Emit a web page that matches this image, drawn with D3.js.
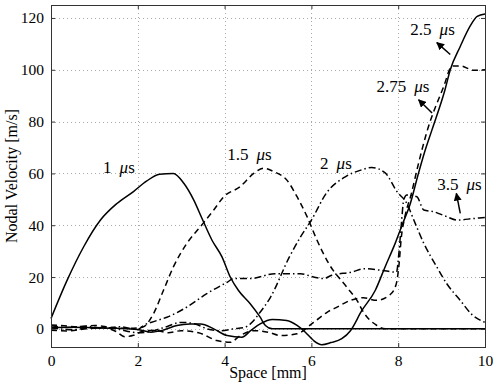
<!DOCTYPE html>
<html>
<head>
<meta charset="utf-8">
<script src="https://cdn.jsdelivr.net/npm/d3@7"></script>
<style>
  body { margin: 0; background: #fff; }
  svg text { font-family: "Liberation Serif", "Times New Roman", serif; fill: #000; }
</style>
</head>
<body>
<svg id="chart" width="498" height="388"></svg>
<script>
// values: [space mm, velocity m/s]
var t1 = [[0,4],[0.37,18.7],[0.75,31.6],[1.14,42],[1.52,48.4],[1.9,53],[2.2,57],[2.5,59.7],[2.82,60],
  [3.06,56.2],[3.29,49.7],[3.48,42.6],[3.71,34.2],[3.94,27.8],[4.13,20],[4.32,14.8],[4.59,9.7],
  [4.82,4.5],[4.94,1.3],[5.1,0],[10,0]];
var t15 = [[0,1.5],[0.3,1.2],[0.6,0.8],[1.0,1.3],[1.4,0.5],[1.8,0.2],[2.0,0.4],[2.13,0.8],[2.36,5.8],
  [2.59,14.8],[2.82,23.9],[3.13,33],[3.44,39.4],[3.75,45.9],[3.98,51],[4.36,54.9],[4.67,60],[4.9,62],
  [5.13,60.7],[5.43,57.5],[5.67,51],[5.9,43.3],[6.13,34.2],[6.4,25.2],[6.82,16],[7.05,11],[7.2,6.4],
  [7.51,1.3],[7.7,0],[10,0]];
var t2 = [[0,0.3],[0.5,-0.3],[1,0.5],[1.5,0],[2.0,-1.5],[2.3,-1.0],[2.6,0.5],[3.0,2.5],[3.3,2],[3.6,0],
  [3.9,-0.7],[4.2,0],[4.45,0.5],[4.6,2],[4.8,6],[5.05,12],[5.5,28],[5.75,35.5],[6.0,42],[6.35,52.5],
  [6.77,58.6],[7.16,61.4],[7.39,62.3],[7.7,60.2],[7.97,53],[8.2,48.4],[8.36,42],[8.59,33],[8.89,23.9],
  [9.12,17.4],[9.43,11],[9.7,5.5],[10,2.5]];
var t25 = [[0,0.5],[0.5,0.6],[1.0,0.4],[1.5,0.2],[2.0,-0.2],[2.3,-1.3],[2.6,-0.4],[2.9,1.3],[3.2,1.9],
  [3.45,1.9],[3.75,0],[4.06,-2.6],[4.4,-3.2],[4.6,-0.7],[4.82,1.9],[5.1,3.6],[5.43,3.2],[5.67,1.3],
  [5.86,-1.3],[6.05,-4.5],[6.24,-6.1],[6.45,-5.3],[6.7,-3.8],[6.9,-0.7],[7.16,7],[7.47,14.8],[7.7,24],
  [7.93,33],[8.1,40.5],[8.28,48.4],[8.45,59],[8.6,67.8],[8.78,76.9],[9.08,92.4],[9.2,100],[9.43,109],
  [9.66,116.9],[9.82,120.6],[10,121.5]];
var t275 = [[0,-0.5],[0.4,-0.8],[0.8,0],[1.2,0.4],[1.5,-1],[1.7,-3],[1.9,-2.5],[2.1,-1],[2.4,-0.5],
  [2.7,-1.5],[3.0,-0.7],[3.4,-1.5],[3.82,-4.5],[4.13,-5.2],[4.36,-2.6],[4.67,-0.7],[5.0,-1.3],[5.3,-2.6],
  [5.67,-1.9],[6.05,2.5],[6.36,6.4],[6.6,8.5],[6.9,11],[7.2,12],[7.5,11],[7.8,13],[7.95,17],[8.02,25],
  [8.07,35],[8.15,43],[8.3,52],[8.47,64],[8.66,76],[9.05,93.6],[9.24,101.4],[9.43,101.5],[9.74,99.8],[10,100]];
var t35 = [[0,1.2],[0.4,0.5],[0.8,1.0],[1.2,0.2],[1.6,0.8],[2.0,-0.3],[2.13,1.3],[2.4,3],[2.67,4.5],
  [3.13,8.4],[3.59,13.6],[4.06,18],[4.21,19.4],[4.59,19.4],[5.16,21.3],[5.75,21.3],[6.05,20],[6.28,19.4],
  [6.47,20.7],[6.92,21.9],[7.23,23.2],[7.61,22.6],[7.96,21.9],[8.02,30],[8.07,40],[8.13,50],[8.2,51.7],
  [8.43,51],[8.59,45.9],[8.82,45.2],[9.12,43.3],[9.35,42],[9.74,42.6],[10,43]];

var series = [
  {data: t1, dash: null},
  {data: t15, dash: "6,4"},
  {data: t2, dash: "7,3,1.5,3"},
  {data: t25, dash: null},
  {data: t275, dash: "6,4"},
  {data: t35, dash: "7,3,1.5,3"}
];

var xTicks = [0, 2, 4, 6, 8, 10];
var yTicks = [0, 20, 40, 60, 80, 100, 120];

// label: [text, x, y] (left edge, baseline) in data units
var labels = [["1", 1.2, 60.2], ["1.5", 4.06, 65.2], ["2", 6.2, 61.7],
  ["2.5", 8.28, 113.3], ["2.75", 7.5, 91.6], ["3.5", 8.9, 53.6]];
// arrows: [x from, y from, x to, y to]
var arrows = [[9.2, 105.9, 8.89, 110.5], [8.78, 83.3, 8.47, 88.4], [9.43, 44.6, 9.34, 52.3]];

(function () {
  var serif = '"Liberation Serif", "Times New Roman", serif';
  var svg = d3.select("#chart");
  var mLeft = 51, mRight = 485, mTop = 5, mBottom = 347;

  var x = d3.scaleLinear().domain([0, 10]).range([mLeft, mRight]);
  var y = d3.scaleLinear().domain([-7, 125]).range([mBottom, mTop]);

  // grid
  var grid = svg.append("g").attr("stroke", "#aaa").attr("stroke-width", 1).attr("stroke-dasharray", "1,3");
  grid.selectAll(".gx").data(xTicks.slice(1, -1)).enter().append("line")
    .attr("x1", d => Math.round(x(d)) + 0.5).attr("x2", d => Math.round(x(d)) + 0.5)
    .attr("y1", mTop).attr("y2", mBottom);
  grid.selectAll(".gy").data(yTicks).enter().append("line")
    .attr("y1", d => Math.round(y(d)) + 0.5).attr("y2", d => Math.round(y(d)) + 0.5)
    .attr("x1", mLeft).attr("x2", mRight);

  // curves
  var line = d3.line().x(d => x(d[0])).y(d => y(d[1])).curve(d3.curveMonotoneX);
  svg.append("g").selectAll("path").data(series).enter().append("path")
    .attr("d", d => line(d.data))
    .attr("fill", "none").attr("stroke", "#000").attr("stroke-width", 1.5)
    .attr("stroke-dasharray", d => d.dash);

  // box and ticks
  svg.append("rect").attr("x", mLeft + 0.5).attr("y", mTop + 0.5)
    .attr("width", mRight - mLeft).attr("height", mBottom - mTop)
    .attr("fill", "none").attr("stroke", "#333").attr("stroke-width", 1);

  var xb = svg.append("g").attr("transform", "translate(0," + mBottom + ")")
    .call(d3.axisBottom(x).tickValues(xTicks).tickSize(-4).tickPadding(8).tickFormat(d3.format("d")));
  var xt = svg.append("g").attr("transform", "translate(0," + mTop + ")")
    .call(d3.axisTop(x).tickValues(xTicks).tickSize(-4).tickFormat(""));
  var yl = svg.append("g").attr("transform", "translate(" + mLeft + ",0)")
    .call(d3.axisLeft(y).tickValues(yTicks).tickSize(-4).tickPadding(7));
  var yr = svg.append("g").attr("transform", "translate(" + mRight + ",0)")
    .call(d3.axisRight(y).tickValues(yTicks).tickSize(-4).tickFormat(""));
  [xb, xt, yl, yr].forEach(function (g) {
    g.attr("font-family", null).attr("font-size", null);
    g.select(".domain").remove();
    g.selectAll("line").attr("stroke", "#333");
    g.selectAll("text").style("font-family", serif).style("font-size", "15.5px").attr("fill", "#000");
  });

  // axis titles
  svg.append("text").attr("x", 268).attr("y", 378).attr("text-anchor", "middle")
    .style("font-family", serif).style("font-size", "16px").text("Space [mm]");
  svg.append("text").attr("transform", "translate(17,176) rotate(-90)").attr("text-anchor", "middle")
    .style("font-family", serif).style("font-size", "16px").text("Nodal Velocity [m/s]");

  // time labels
  var lt = svg.append("g").selectAll("text").data(labels).enter().append("text")
    .attr("x", d => x(d[1])).attr("y", d => y(d[2]))
    .style("font-family", serif).style("font-size", "17px");
  lt.append("tspan").text(d => d[0]);
  lt.append("tspan").attr("dx", 8).attr("font-style", "italic").text("\u03bc");
  lt.append("tspan").text("s");

  // arrows
  svg.append("defs").append("marker").attr("id", "head")
    .attr("viewBox", "0 0 10 10").attr("refX", 9).attr("refY", 5)
    .attr("markerWidth", 8).attr("markerHeight", 8).attr("markerUnits", "userSpaceOnUse")
    .attr("orient", "auto")
    .append("path").attr("d", "M0,0 L10,5 L0,10 z").attr("fill", "#000");
  svg.append("g").selectAll("line").data(arrows).enter().append("line")
    .attr("x1", d => x(d[0])).attr("y1", d => y(d[1]))
    .attr("x2", d => x(d[2])).attr("y2", d => y(d[3]))
    .attr("stroke", "#000").attr("stroke-width", 1.5).attr("marker-end", "url(#head)");
})();
</script>
</body>
</html>
